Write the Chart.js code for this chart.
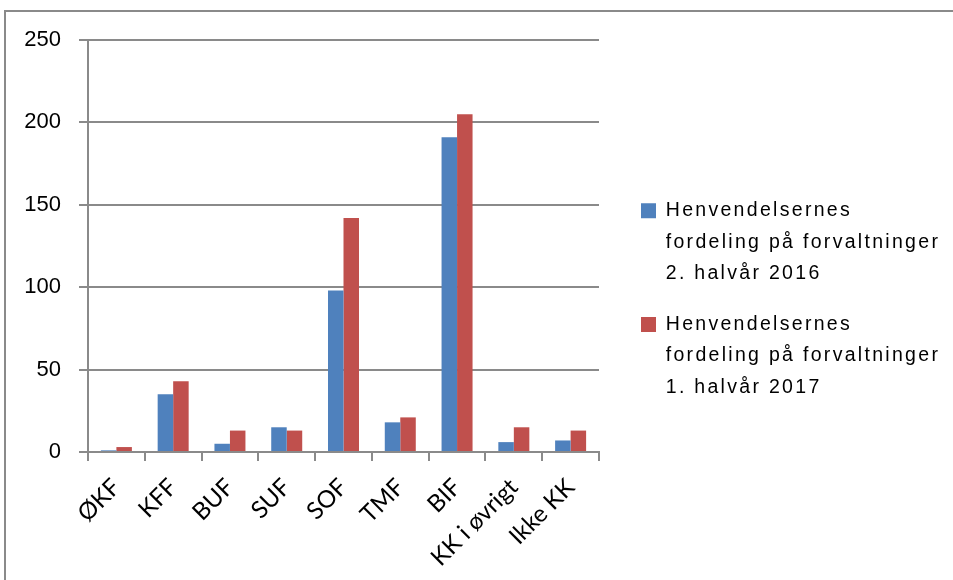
<!DOCTYPE html>
<html>
<head>
<meta charset="utf-8">
<script src="https://cdn.jsdelivr.net/npm/chart.js@4/dist/chart.umd.min.js"></script>
<style>
  html, body { margin: 0; padding: 0; background: #fff; overflow: hidden; }
  #wrap { position: relative; width: 953px; height: 580px; }
  #frame { position: absolute; left: 4px; top: 10px; width: 1200px; height: 1200px;
           border-left: 2px solid #8a8a8a; border-top: 2px solid #8a8a8a; pointer-events: none; }
  canvas { position: absolute; left: 0; top: 0; }
</style>
</head>
<body>
<div id="wrap">
  <canvas id="c" width="953" height="580" style="width:953px;height:580px"></canvas>
  <div id="frame"></div>
</div>
<script>
const categories = ["ØKF", "KFF", "BUF", "SUF", "SOF", "TMF", "BIF", "KK i øvrigt", "Ikke KK"];
const values2016 = [1, 35, 5, 15, 98, 18, 191, 6, 7];
const values2017 = [3, 43, 13, 13, 142, 21, 205, 15, 13];
const label2016 = ["Henvendelsernes", "fordeling på forvaltninger", "2. halvår 2016"];
const label2017 = ["Henvendelsernes", "fordeling på forvaltninger", "1. halvår 2017"];
const yTicks = [0, 50, 100, 150, 200, 250];

const GRID = '#8a8a8a';
const LEGEND_W = 354;

const chart = new Chart(document.getElementById('c').getContext('2d'), {
  type: 'bar',
  data: {
    labels: categories,
    datasets: [
      { label: label2016, data: values2016, backgroundColor: '#4f81bd', borderWidth: 0 },
      { label: label2017, data: values2017, backgroundColor: '#c0504d', borderWidth: 0 }
    ]
  },
  options: {
    responsive: false,
    animation: false,
    devicePixelRatio: 1,
    layout: { autoPadding: false, padding: { left: 24, top: 40, right: 0, bottom: 0 } },
    datasets: { bar: { categoryPercentage: 0.546, barPercentage: 1.0 } },
    scales: {
      x: {
        grid: { display: true, drawOnChartArea: false, drawTicks: true, tickLength: 9, color: GRID, lineWidth: 2, offset: true },
        border: { display: true, color: GRID, width: 2 },
        ticks: { color: '#000', font: { family: 'Lato', size: 24 }, minRotation: 45, maxRotation: 45, autoSkip: false, padding: 12 },
        afterFit: (s) => { s.paddingLeft = 0; s.paddingRight = 0; s.height = 128; }
      },
      y: {
        min: 0, max: 250,
        afterBuildTicks: (axis) => { axis.ticks = yTicks.map(v => ({ value: v })); },
        grid: { color: GRID, lineWidth: 2, tickLength: 9, drawTicks: true },
        border: { display: true, color: GRID, width: 2 },
        ticks: { color: '#000', font: { family: 'Liberation Sans', size: 22 }, padding: 18 },
        afterFit: (s) => { s.width = 64; s.paddingTop = 0; s.paddingBottom = 0; }
      }
    },
    plugins: {
      tooltip: { enabled: false },
      legend: {
        position: 'right',
        align: 'center',
        labels: {
          color: '#000',
          font: { family: 'Liberation Sans', size: 19.5, lineHeight: 1.62 },
          boxWidth: 15, boxHeight: 15, padding: 19
        }
      }
    }
  }
});

const leg = chart.legend;
const origFit = leg.fit.bind(leg);
leg.fit = function () { origFit(); this.width = LEGEND_W; };
leg.draw = function () {
  const c = chart.ctx;
  const pad = 19;
  const colH = (leg.columnSizes && leg.columnSizes[0]) ? leg.columnSizes[0].height : 0;
  const startY = (leg.top + pad + leg.bottom - colH) / 2;
  const dx = 641 - (leg.left + pad);
  const dy = 201 - startY;
  c.save();
  c.translate(dx, dy);
  c.letterSpacing = '2.3px';
  leg._draw();
  c.letterSpacing = '0px';
  c.restore();
};
chart.update('none');
</script>
</body>
</html>
